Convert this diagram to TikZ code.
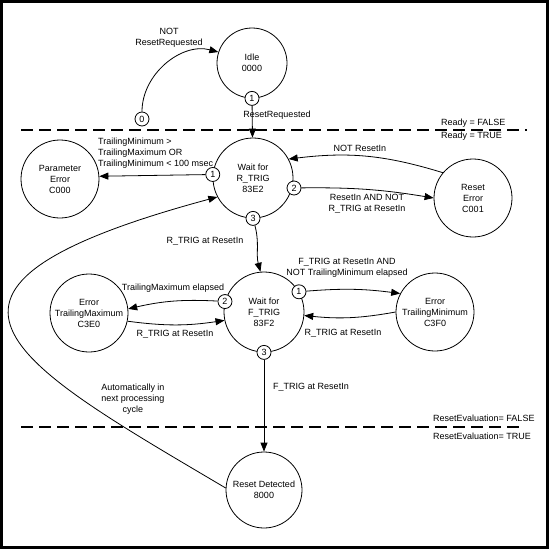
\documentclass[tikz,border=0pt]{standalone}
\usepackage{fontspec}
\setmainfont{Liberation Sans}
\usetikzlibrary{arrows.meta}
\begin{document}
\begin{tikzpicture}[x=1pt,y=1pt,
  every node/.style={font=\fontsize{9}{11}\selectfont, align=center},
  state/.style={circle, draw, line width=0.8pt, inner sep=0pt, minimum size=78pt},
  badge/.style={circle, draw, line width=0.8pt, fill=white, inner sep=0pt, minimum size=14pt},
  arr/.style={line width=0.8pt, -{Triangle[length=9pt,width=7pt]}},
  sep/.style={line width=2.6pt, dash pattern=on 12pt off 6pt},
  lbl/.style={inner sep=0pt}]
\useasboundingbox (0,0) rectangle (549,-549);
\fill[white] (0,0) rectangle (549,-549);
\draw[line width=2.6pt] (1.3,-1.5) rectangle (547.7,-547.7);

% separators
\draw[sep] (21,-130) -- (527,-130);
\draw[sep] (21,-427) -- (524,-427);
\node[lbl, anchor=west] (rf) at (441,-123) {Ready = FALSE};
\node[lbl, anchor=west] (rt) at (441,-136) {Ready = TRUE};
\node[lbl, anchor=west] (ef) at (433,-418) {ResetEvaluation= FALSE};
\node[lbl, anchor=west] (et) at (433,-436) {ResetEvaluation= TRUE};

% states
\node[state, minimum size=70pt] (idle) at (252,-63) {Idle\\0000};
\node[state, minimum size=80pt] (wr) at (253,-178) {Wait for\\R\_TRIG\\83E2};
\node[state] (pe) at (60,-179) {Parameter\\Error\\C000};
\node[state] (re) at (473,-198) {Reset\\Error\\C001};
\node[state, minimum size=80pt] (wf) at (264,-312) {Wait for\\F\_TRIG\\83F2};
\node[state] (etmax) at (89,-313) {Error\\TrailingMaximum\\C3E0};
\node[state] (etmin) at (435,-312) {Error\\TrailingMinimum\\C3F0};
\node[state, minimum size=76pt] (rd) at (264,-490) {Reset Detected\\8000};

% badges
\node[badge] (b0) at (142,-119) {0};
\node[badge] (i1) at (idle.south) {1};
\node[badge] (r1) at (wr.175) {1};
\node[badge] (r2) at (294,-188) {2};
\node[badge] (r3) at (wr.south) {3};
\node[badge] (f1) at (wf.30) {1};
\node[badge] (f2) at (wf.165) {2};
\node[badge] (f3) at (wf.south) {3};

% connectors
\draw[arr] (b0) to[out=90,in=165] (idle.162);
\draw[arr] (i1) -- (wr);
\draw[arr] (r1) -- (pe.4);
\draw[arr] (re.140) to[bend right=12] (wr.28);
\draw[arr] (r2) to[bend left=5] (re.west);
\draw[arr] (r3) to[out=-75,in=105] (wf.95);
\draw[arr] (f2) to[bend right=8] (etmax.6);
\draw[arr] (etmax.-12) to[bend right=8] (wf.192);
\draw[arr] (f1) to[bend left=6] (etmin.152);
\draw[arr] (etmin.180) to[bend left=8] (wf.-5);
\draw[arr] (f3) -- (rd);
\draw[arr] (rd.177) .. controls (11,-361) and (-124,-289) .. (wr.208);

% labels
\node[lbl] (l0) at (169,-38) {NOT\\ResetRequested};
\node[lbl] (l1) at (277,-115) {ResetRequested};
\node[lbl, anchor=west, align=left] (l2) at (98,-153) {TrailingMinimum >\\TrailingMaximum OR\\TrailingMinimum < 100 msec};
\node[lbl] (l3) at (360,-148) {NOT ResetIn};
\node[lbl] (l4) at (367,-204) {ResetIn AND NOT\\R\_TRIG at ResetIn};
\node[lbl] (l5) at (205,-241) {R\_TRIG at ResetIn};
\node[lbl] (l6) at (173,-288) {TrailingMaximum elapsed};
\node[lbl] (l7) at (175,-334) {R\_TRIG at ResetIn};
\node[lbl] (l8) at (347,-268) {F\_TRIG at ResetIn AND\\NOT TrailingMinimum elapsed};
\node[lbl] (l9) at (343,-333) {R\_TRIG at ResetIn};
\node[lbl] (l10) at (311,-387) {F\_TRIG at ResetIn};
\node[lbl] (l11) at (133,-399) {Automatically in\\next processing\\cycle};
\end{tikzpicture}
\end{document}
